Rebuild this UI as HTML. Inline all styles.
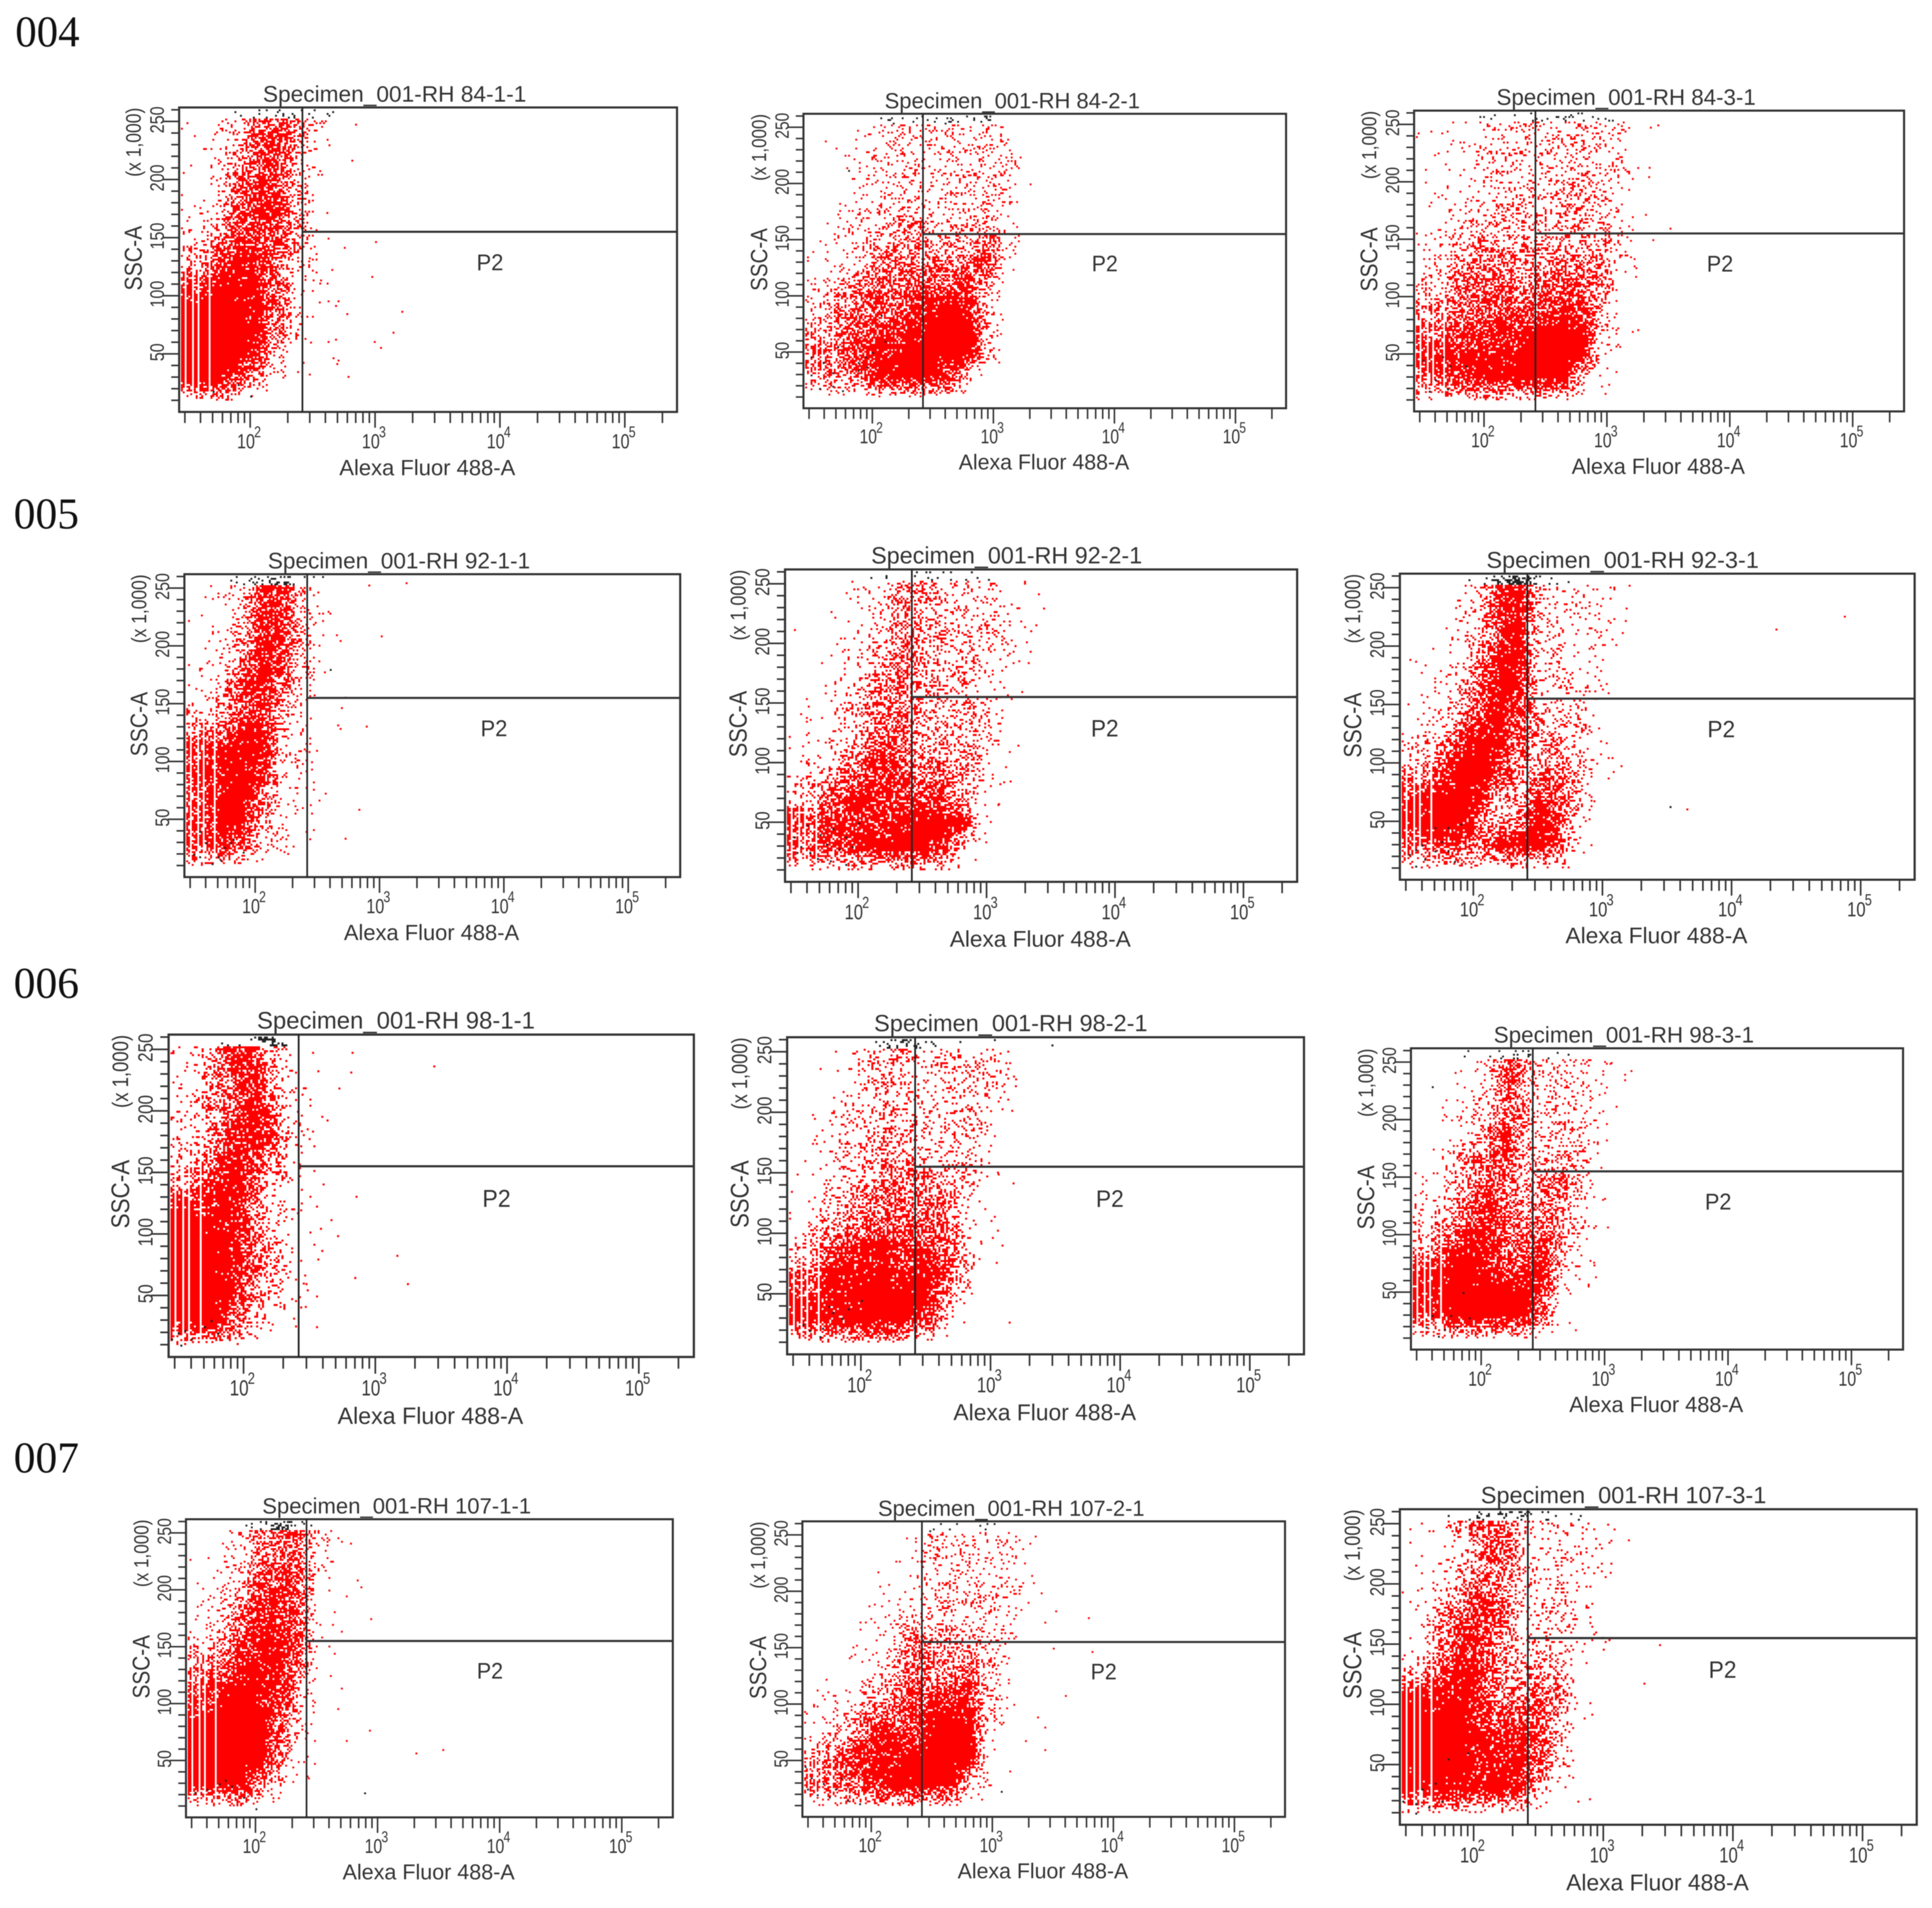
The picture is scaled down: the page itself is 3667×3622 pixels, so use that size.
<!DOCTYPE html>
<html lang="en">
<head>
<meta charset="utf-8">
<title>Flow cytometry dot plots 004-007</title>
<style>
html,body{margin:0;padding:0;background:#fff;}
svg{display:block;filter:blur(0.8px);}
text{font-family:"Liberation Sans",sans-serif;fill:#333;}
text.serif{font-family:"Liberation Serif",serif;fill:#111;}
</style>
</head>
<body>
<svg id="figure" xmlns="http://www.w3.org/2000/svg" width="3667" height="3622" viewBox="0 0 3667 3622">
<rect width="3667" height="3622" fill="#fff"/>
<text class="serif" x="29" y="88" font-size="84" textLength="122" lengthAdjust="spacingAndGlyphs">004</text>
<text class="serif" x="26" y="1003" font-size="84" textLength="124" lengthAdjust="spacingAndGlyphs">005</text>
<text class="serif" x="26" y="1894" font-size="84" textLength="124" lengthAdjust="spacingAndGlyphs">006</text>
<text class="serif" x="26" y="2795" font-size="84" textLength="124" lengthAdjust="spacingAndGlyphs">007</text>
</svg>
<script>
// Axis categories for the density grids: log10(Alexa Fluor 488-A) columns, SSC-A (x1000) rows.
const logCols = [1.45,1.6,1.75,1.9,2.05,2.2,2.35,2.5,2.65,2.8,2.95,3.1,3.25];
const sscRows = [250,230,210,190,170,150,130,110,90,70,50,30,10];
// Density digit (0-9) to fraction of plot area covered by events.
const coverage = [0,0.03,0.08,0.15,0.26,0.4,0.58,0.77,0.93,1];

// Labels
const specimenNames = ["84-1-1","84-2-1","84-3-1","92-1-1","92-2-1","92-3-1","98-1-1","98-2-1","98-3-1","107-1-1","107-2-1","107-3-1"];
const yTickLabels = [50,100,150,200,250];
const yMinorTicks = [10,20,30,40,60,70,80,90,110,120,130,140,160,170,180,190,210,220,230,240,260];
const xDecades = [2,3,4,5];
const xMinorTicks = [30,40,50,60,70,80,90,200,300,400,500,600,700,800,900,2000,3000,4000,5000,6000,7000,8000,9000,20000,30000,40000,50000,60000,70000,80000,90000,200000];
const gateX = 262;
const gateY = 155;
// Empty digitisation channels that leave pale stripes at low fluorescence.
const gapChannels = [30,34,38,47];

// Event density per plot (rows = sscRows, columns = logCols).
const cloud84_1 = ["1123676300000","1124675200000","1135674100000","1136775100000","1236775100000","3457765100000","4578763100000","7788863100000","9999863000000","9999852000000","9999741000000","9997410000000","2221000000000"];
const cloud84_2 = ["0001233333320","0011233233320","0012233233330","0011233233430","0012344333320","1122455344620","1123565556710","2345666667400","3456667897300","5566778999300","6667889999200","5556899971000","0001233210000"];
const cloud84_3 = ["1011233333320","0112333333320","1112333333321","1112333344320","1123344344320","2234444444430","2345555555520","3456665666500","5556666777300","6667778999310","7888889999100","6778899983100","1112332100000"];
const cloud92_1 = ["0123774000000","0114774100000","0115774000000","0125874100000","1147863000000","3356752000000","5568842000000","7789832000000","7789732000000","7799621000000","7799421000000","7785321000000","2211000000000"];
const cloud92_2 = ["0001125532321","0001135433331","0001235443331","0001346433321","0012356433210","0113455444310","0112456444310","1123676454310","2346776565310","4467877774100","8677778999100","7677899972000","1111333210000"];
const cloud92_3 = ["0002378522210","0001378322210","0002378321210","0102588322200","0013688322100","0124787333100","1236886444100","3458985453100","6579974564100","7899844763000","8899636971000","7776599961000","1111122100000"];
const cloud98_1 = ["1247741000000","1247742000000","2346762000000","2347873000000","3457762000000","4578752000000","7788631000000","9988631000000","9998631000000","9998641000000","9998531000000","9997421000000","2221100000000"];
const cloud98_2 = ["0001345233310","0011343332320","0012344333310","0013344333300","0123444333100","0123455444200","0134565553000","1245666652100","2467887763100","5688887973000","8788999951000","8888999720000","1123442000000"];
const cloud98_3 = ["0001464223210","0002365232100","0012355333100","0013574233100","0034674344100","1134654563100","2236764552000","3357865652000","5578866741000","8799867821000","8899999710000","7799999510000","1112221000000"];
const cloud107_1 = ["0013566310000","0113566210000","0124676100000","0135776100000","1246876100000","3457886100000","5668885100000","7789874000000","8899963000000","9999962000000","9999952000000","9998520000000","2222100000000"];
const cloud107_2 = ["0000001433221","0000011333221","0000111333331","0000112333321","0001124333321","0001136544420","0001246556410","0112457677400","1234667898310","2356887999200","5677889999100","6666899993100","1111233210000"];
const cloud107_3 = ["0114664222110","0111574222100","0124553221100","1125663332100","0156763332100","1257743332100","3468754541000","8888755651000","9999766741000","9999877731000","9999788620000","9898897310000","2222111000000"];
const clouds = [cloud84_1,cloud84_2,cloud84_3,cloud92_1,cloud92_2,cloud92_3,cloud98_1,cloud98_2,cloud98_3,cloud107_1,cloud107_2,cloud107_3];

// Density of off-scale (black) events along the top edge, columns = logCols.
const saturatedTop = ["0011233210000","0000122222200","0001222232210","0001351100000","0000123222110","0000146210000","0001351000000","0000024211100","0001233110000","0000353000000","0000001311100","0001334211000"];

// Isolated red events [log10 x, SSC x1000].
const stray84_1 = [[2.84,248],[2.81,217],[2.61,172],[2.62,150],[2.75,142],[3.0,147],[2.47,133],[2.65,123],[2.97,117],[2.5,114],[2.56,114],[2.55,95],[2.62,96],[2.7,96],[2.68,92],[2.77,85],[3.21,87],[3.14,69],[2.62,61],[2.68,63],[2.99,61],[3.04,56],[2.66,47],[2.7,45],[2.69,42],[2.78,31],[2.47,33]];
const stray84_2 = [[3.3,200],[3.04,105]];
const stray84_3 = [[3.51,160],[3.41,250],[3.35,248],[3.34,213],[3.31,172],[3.37,150],[3.1,57],[3.23,118]];
const stray92_1 = [[2.91,253],[3.21,255],[2.5,247],[2.43,229],[3.01,209],[2.54,210],[2.65,210],[2.68,205],[2.51,201],[2.45,175],[2.47,158],[2.72,156],[2.69,147],[2.44,138],[2.66,132],[2.68,129],[2.89,131],[2.49,110],[2.43,109],[2.56,73],[2.51,67],[2.44,63],[2.83,59],[2.72,34]];
const stray92_2 = [[3.44,230],[3.4,242],[3.34,211],[3.24,115],[3.18,85],[3.09,66],[2.99,34],[3.27,160],[1.5,212]];
const stray92_3 = [[4.87,226],[4.34,215],[3.65,61],[3.15,212],[3.18,233],[3.14,98],[3.08,93],[2.93,68]];
const stray98_1 = [[2.52,248],[2.82,248],[3.44,237],[2.56,233],[2.81,232],[2.72,219],[2.44,214],[2.5,210],[2.5,205],[2.59,196],[2.63,193],[2.52,184],[2.43,172],[2.53,172],[2.53,152],[2.6,141],[2.5,131],[2.85,131],[2.55,123],[2.43,120],[2.66,112],[2.58,105],[2.5,102],[2.71,99],[2.53,92],[2.59,87],[2.56,80],[3.16,83],[2.43,79],[2.84,65],[3.24,60],[2.46,67],[2.47,60],[2.48,55],[2.55,50],[2.43,41],[2.55,25]];
const stray98_2 = [[3.14,27],[3.17,142],[3.16,202],[3.19,228],[3.05,103],[3.0,111],[3.01,97],[2.92,94],[3.05,151]];
const stray98_3 = [[3.21,243],[3.09,212],[3.02,107],[2.98,131],[3.05,250],[2.71,24],[2.91,74]];
const stray107_1 = [[2.83,209],[2.86,203],[2.74,195],[2.94,175],[2.7,164],[2.61,125],[2.7,114],[2.67,96],[2.93,77],[2.74,68],[3.31,57],[3.53,60],[2.48,68],[2.47,93],[2.43,35]];
const stray107_2 = [[3.52,183],[3.79,177],[3.43,173],[3.4,199],[3.82,147],[3.5,150],[3.6,108],[3.37,89],[3.43,80],[3.27,68],[3.43,60],[3.14,41]];
const stray107_3 = [[3.43,150],[3.31,118],[3.19,237],[3.08,246],[3.03,250],[2.89,22],[2.8,20],[3.04,235],[3.05,210],[2.99,156]];
const strays = [stray84_1,stray84_2,stray84_3,stray92_1,stray92_2,stray92_3,stray98_1,stray98_2,stray98_3,stray107_1,stray107_2,stray107_3];

// Isolated black (off-gate) events [log10 x, SSC x1000].
const dark84_1 = [[1.7,18],[1.9,24],[2.0,14]];
const dark84_2 = [[1.49,30],[1.59,41],[1.67,20],[1.71,55],[1.8,212],[1.88,41],[1.94,46],[1.88,34],[2.07,83],[2.1,60],[1.49,46],[1.56,18],[1.75,16],[1.67,32],[1.95,37],[2.0,50]];
const dark84_3 = [[1.5,45],[1.66,48],[1.72,40],[1.85,40],[1.6,28],[1.7,20],[1.55,18]];
const dark92_1 = [[1.5,20],[1.55,18],[1.6,30],[1.7,18],[1.75,26],[1.8,30],[1.9,22],[1.72,15],[1.82,33],[1.65,12],[1.55,40],[2.6,180]];
const dark92_2 = [[1.5,38],[1.55,30],[1.6,48],[1.68,20],[1.75,32],[1.8,45],[1.85,28],[1.9,38],[1.95,30],[1.7,40],[1.52,25],[1.62,25],[1.9,15],[2.0,50],[1.78,18]];
const dark92_3 = [[1.5,22],[1.55,26],[1.62,18],[1.7,25],[1.75,33],[1.8,45],[1.7,45],[1.9,48],[1.6,30],[1.8,25],[1.85,16],[1.55,12],[3.52,63]];
const dark98_1 = [[1.5,20],[1.55,22],[1.6,15],[1.7,25],[1.75,30],[1.8,20],[1.45,15],[1.52,10]];
const dark98_2 = [[1.6,20],[1.75,40],[1.78,35],[1.9,38],[2.0,45],[1.55,25],[1.7,22],[1.85,30],[1.68,15],[3.47,256]];
const dark98_3 = [[1.6,30],[1.75,30],[1.85,50],[1.9,28],[1.55,20],[1.7,18],[1.8,20],[1.65,12],[1.6,229]];
const dark107_1 = [[1.5,22],[1.6,25],[1.7,30],[1.75,33],[1.8,28],[1.9,18],[2.0,8],[2.89,22]];
const dark107_2 = [[1.47,25],[1.5,35],[1.55,20],[1.6,30],[1.65,18],[1.7,25],[1.75,35],[1.45,45],[1.8,15],[1.9,12],[3.07,23]];
const dark107_3 = [[1.45,20],[1.55,18],[1.6,30],[1.7,35],[1.8,55],[1.65,15],[1.75,20],[1.55,10],[1.95,60]];
const darks = [dark84_1,dark84_2,dark84_3,dark92_1,dark92_2,dark92_3,dark98_1,dark98_2,dark98_3,dark107_1,dark107_2,dark107_3];

// Page layout of each plot frame: left, top, right, bottom.
const frames = [[340,204,1285,782],[1525,216,2441,775],[2684,210,3614,781],[350,1090,1291,1665],[1490,1081,2462,1674],[2657,1089,3634,1670],[320,1964,1317,2576],[1494,1969,2475,2571],[2678,1990,3612,2562],[353,2884,1277,3450],[1523,2888,2439,3449],[2657,2865,3638,3464]];

const SVGNS = "http://www.w3.org/2000/svg";
const W0 = 945, H0 = 578, LOG_MIN = 1.431, LOG_MAX = 5.418, SSC_MAX = 262;
const CELL = 3.5, DOT = 3.6;
const X = function (logValue) { return (logValue - LOG_MIN) / (LOG_MAX - LOG_MIN) * W0; };
const Y = function (ssc) { return H0 - ssc / SSC_MAX * H0; };
const invX = function (px) { return LOG_MIN + px / W0 * (LOG_MAX - LOG_MIN); };
const invY = function (py) { return (H0 - py) / H0 * SSC_MAX; };

function make(tag, parent, props) {
  const el = document.createElementNS(SVGNS, tag);
  for (const k in props) el.setAttribute(k, props[k]);
  parent.appendChild(el);
  return el;
}
function makeText(parent, str, x, y, size, length, rotate) {
  const props = { x: x, y: y, "font-size": size, "text-anchor": "middle", textLength: length, lengthAdjust: "spacingAndGlyphs" };
  if (rotate) props.transform = "rotate(-90 " + x + " " + y + ")";
  const t = make("text", parent, props);
  t.textContent = str;
  return t;
}
function digitCoverage(row, c) {
  if (c < 0) c = 0;
  if (c > 12) return 0;
  return coverage[+row[c]];
}
// Bilinear lookup of the density grid at a log-x / SSC location.
function densityAt(grid, logValue, ssc) {
  if (ssc < 11) return 0;
  const u = (logValue - logCols[0]) / (logCols[1] - logCols[0]);
  const v = Math.min((sscRows[0] - ssc) / (sscRows[0] - sscRows[1]), 12);
  const r0 = Math.max(0, Math.floor(v));
  const r1 = Math.min(12, r0 + 1);
  const fv = Math.max(0, v - r0);
  const c0 = Math.floor(u);
  const fu = u - c0;
  const top = digitCoverage(grid[r0], c0) * (1 - fu) + digitCoverage(grid[r0], c0 + 1) * fu;
  const bot = digitCoverage(grid[r1], c0) * (1 - fu) + digitCoverage(grid[r1], c0 + 1) * fu;
  return top * (1 - fv) + bot * fv;
}
// Fixed dither threshold per lattice site: turns a density into a speckle of dots.
function ditherThreshold(i, j) {
  const s = Math.sin(i * 12.9898 + j * 78.233) * 43758.5453;
  return s - Math.floor(s);
}
function square(x, y) {
  return "M" + x.toFixed(1) + " " + y.toFixed(1) + "h" + DOT + "v" + DOT + "h-" + DOT + "z";
}
function eventPath(index) {
  const grid = clouds[index];
  const gapPx = gapChannels.map(function (v) { return X(Math.log10(v)); });
  let d = "";
  const iMax = Math.ceil(X(logCols[12] + 0.15) / CELL);
  const jMin = Math.ceil(Y(254) / CELL);
  const jMax = Math.ceil(Y(10) / CELL);
  for (let i = 1; i < iMax; i++) {
    const px = i * CELL;
    if (gapPx.some(function (g) { return Math.abs(g - px) < CELL / 2; })) continue;
    const lg = invX(px);
    for (let j = jMin; j < jMax; j++) {
      const py = j * CELL;
      if (densityAt(grid, lg, invY(py)) > ditherThreshold(i + index * 37, j + index * 11)) d += square(px, py);
    }
  }
  strays[index].forEach(function (p) { d += square(X(p[0]), Y(p[1])); });
  return d;
}
function saturatedPath(index) {
  const row = saturatedTop[index];
  let d = "";
  const iMax = Math.ceil(X(logCols[12] + 0.15) / CELL);
  const jMin = Math.ceil(Y(261) / CELL);
  const jMax = Math.ceil(Y(254) / CELL);
  for (let i = 1; i < iMax; i++) {
    const u = (invX(i * CELL) - logCols[0]) / (logCols[1] - logCols[0]);
    const c0 = Math.floor(u), fu = u - c0;
    const cov = digitCoverage(row, c0) * (1 - fu) + digitCoverage(row, c0 + 1) * fu;
    for (let j = jMin; j < jMax; j++) {
      if (cov > ditherThreshold(i + index * 53, j + index * 7)) d += square(i * CELL, j * CELL);
    }
  }
  darks[index].forEach(function (p) { d += square(X(p[0]), Y(p[1])); });
  return d;
}

const figure = document.getElementById("figure");
specimenNames.forEach(function (name, index) {
  const f = frames[index];
  const g = make("g", figure, { transform: "translate(" + f[0] + " " + f[1] + ") scale(" + ((f[2] - f[0]) / W0).toFixed(4) + " " + ((f[3] - f[1]) / H0).toFixed(4) + ")" });
  
  

  const events = make("path", g, { d: eventPath(index), fill: "#ff0000" });
  
  

  const saturated = make("path", g, { d: saturatedPath(index), fill: "#222" });
  
  

  const frame = make("rect", g, { x: 0, y: 0, width: W0, height: H0, fill: "none", stroke: "#333", "stroke-width": 4 });
  
  

  const gx = X(Math.log10(gateX));
  const vGate = make("line", g, { x1: gx, y1: 0, x2: gx, y2: H0, stroke: "#222", "stroke-width": 3.2 });
  
  

  const hGate = make("line", g, { x1: gx, y1: Y(gateY), x2: W0, y2: Y(gateY), stroke: "#333", "stroke-width": 4 });
  
  

  const gateLabel = makeText(g, "P2", 590, 309, 44, 51);
  
  

  const long = name.length > 6;
  const title = makeText(g, "Specimen_001-RH " + name, 409, -11, 43, long ? 522 : 500);
  
  

  yMinorTicks.forEach(function (v) {
    const t = make("line", g, { x1: -15, x2: 0, y1: Y(v), y2: Y(v), stroke: "#333", "stroke-width": 3 });
    
    
  });
  yTickLabels.forEach(function (v) {
    const t = make("line", g, { x1: -32, x2: 0, y1: Y(v), y2: Y(v), stroke: "#333", "stroke-width": 3 });
    
    
    const l = makeText(g, String(v), -29, Y(v) - 3, 37, v >= 100 ? 51 : 34, true);
    
    
  });
  xMinorTicks.forEach(function (v) {
    const px = X(Math.log10(v));
    const t = make("line", g, { x1: px, x2: px, y1: H0, y2: H0 + 21, stroke: "#333", "stroke-width": 3 });
    
    
  });
  xDecades.forEach(function (dec) {
    const px = X(dec);
    const t = make("line", g, { x1: px, x2: px, y1: H0, y2: H0 + 30, stroke: "#333", "stroke-width": 3 });
    
    
    const base = makeText(g, "10", px - 8, H0 + 69, 39, 34);
    
    
    const exp = makeText(g, String(dec), px + 14, H0 + 48, 30, 13);
    
    
  });

  const xTitle = makeText(g, "Alexa Fluor 488-A", 471, H0 + 120, 42, 334);
  
  

  const yTitle = makeText(g, "SSC-A", -71, 286, 46, 123, true);
  
  

  const yUnit = makeText(g, "(x 1,000)", -73, 66, 40, 131, true);
  
  
});
</script>
</body>
</html>
